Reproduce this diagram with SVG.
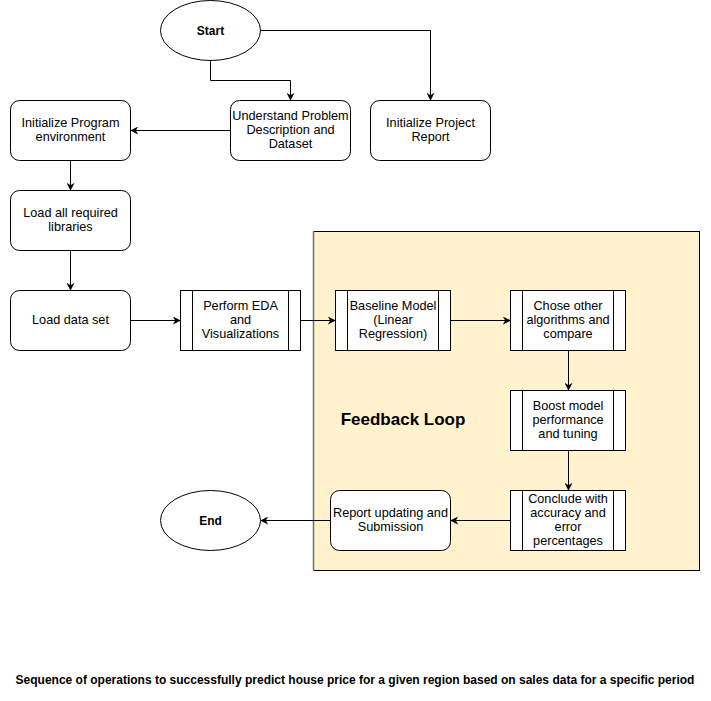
<svg xmlns="http://www.w3.org/2000/svg" width="711" height="701" viewBox="0 0 711 701">
<defs>
<marker id="arr" viewBox="0 0 10 10" refX="9" refY="5" markerWidth="8" markerHeight="8" markerUnits="userSpaceOnUse" orient="auto">
<path d="M0,0 L10,5 L0,10 L3,5 Z" fill="#000"/>
</marker>
<style>
.n{fill:#fff;stroke:#000;stroke-width:1}
.t{font-family:"Liberation Sans",Arial,sans-serif;font-size:12.7px;fill:#000;text-anchor:middle}
.b{font-weight:bold;font-size:12px}
.e{fill:none;stroke:#000;stroke-width:1;marker-end:url(#arr)}
</style>
</defs>
<rect width="711" height="701" fill="#fff"/>
<g id="feedback-loop">
<rect x="313.5" y="231.5" width="386" height="339" fill="#fff2cc" stroke="#000"/>
<line x1="313.5" y1="231" x2="313.5" y2="571" stroke="#707070" stroke-width="1.5"/>
<text x="403" y="425" class="t" style="font-size:17px;font-weight:bold">Feedback Loop</text>
</g>
<g id="connectors">
<path class="e" d="M210.5,60 V80.5 H290.5 V100"/>
<path class="e" d="M260,30.5 H430.5 V100"/>
<path class="e" d="M230,130.5 H131"/>
<path class="e" d="M70.5,160 V190"/>
<path class="e" d="M70.5,250 V290"/>
<path class="e" d="M130,320.5 H180"/>
<path class="e" d="M300,320.5 H335"/>
<path class="e" d="M450,320.5 H510"/>
<path class="e" d="M568.5,350 V390"/>
<path class="e" d="M568.5,450 V490" stroke="#555"/>
<path class="e" d="M510,520.5 H451"/>
<path class="e" d="M330,520.5 H261"/>
</g>
<g id="start">
<ellipse class="n" cx="210.5" cy="30.5" rx="50" ry="30"/>
<text class="t b" x="210.5" y="34.5">Start</text>
</g>
<g id="understand">
<rect class="n" x="230.5" y="100.5" width="120" height="60" rx="9"/>
<text class="t" x="290.5" y="120">Understand Problem</text>
<text class="t" x="290.5" y="134">Description and</text>
<text class="t" x="290.5" y="148">Dataset</text>
</g>
<g id="init-report">
<rect class="n" x="370.5" y="100.5" width="120" height="60" rx="9"/>
<text class="t" x="430.5" y="127">Initialize Project</text>
<text class="t" x="430.5" y="141">Report</text>
</g>
<g id="init-env">
<rect class="n" x="10.5" y="100.5" width="120" height="60" rx="9"/>
<text class="t" x="70.5" y="127">Initialize Program</text>
<text class="t" x="70.5" y="141">environment</text>
</g>
<g id="load-libs">
<rect class="n" x="10.5" y="190.5" width="120" height="60" rx="9"/>
<text class="t" x="70.5" y="217">Load all required</text>
<text class="t" x="70.5" y="231">libraries</text>
</g>
<g id="load-data">
<rect class="n" x="10.5" y="290.5" width="120" height="60" rx="9"/>
<text class="t" x="70.5" y="324">Load data set</text>
</g>
<g id="eda">
<rect class="n" x="180.5" y="290.5" width="120" height="60"/>
<line x1="192.5" y1="290.5" x2="192.5" y2="350.5" stroke="#000"/>
<line x1="288.5" y1="290.5" x2="288.5" y2="350.5" stroke="#000"/>
<text class="t" x="240.5" y="310">Perform EDA</text>
<text class="t" x="240.5" y="324">and</text>
<text class="t" x="240.5" y="338">Visualizations</text>
</g>
<g id="baseline">
<rect class="n" x="335.5" y="290.5" width="115" height="60"/>
<line x1="347.5" y1="290.5" x2="347.5" y2="350.5" stroke="#000"/>
<line x1="438.5" y1="290.5" x2="438.5" y2="350.5" stroke="#000"/>
<text class="t" x="393" y="310">Baseline Model</text>
<text class="t" x="393" y="324">(Linear</text>
<text class="t" x="393" y="338">Regression)</text>
</g>
<g id="chose">
<rect class="n" x="510.5" y="290.5" width="115" height="60"/>
<line x1="522.5" y1="290.5" x2="522.5" y2="350.5" stroke="#000"/>
<line x1="613.5" y1="290.5" x2="613.5" y2="350.5" stroke="#000"/>
<text class="t" x="568" y="310">Chose other</text>
<text class="t" x="568" y="324">algorithms and</text>
<text class="t" x="568" y="338">compare</text>
</g>
<g id="boost">
<rect class="n" x="510.5" y="390.5" width="115" height="60"/>
<line x1="522.5" y1="390.5" x2="522.5" y2="450.5" stroke="#000"/>
<line x1="613.5" y1="390.5" x2="613.5" y2="450.5" stroke="#000"/>
<text class="t" x="568" y="410">Boost model</text>
<text class="t" x="568" y="424">performance</text>
<text class="t" x="568" y="438">and tuning</text>
</g>
<g id="conclude">
<rect class="n" x="510.5" y="490.5" width="115" height="60"/>
<line x1="522.5" y1="490.5" x2="522.5" y2="550.5" stroke="#000"/>
<line x1="613.5" y1="490.5" x2="613.5" y2="550.5" stroke="#000"/>
<text class="t" x="568" y="503">Conclude with</text>
<text class="t" x="568" y="517">accuracy and</text>
<text class="t" x="568" y="531">error</text>
<text class="t" x="568" y="545">percentages</text>
</g>
<g id="report">
<rect class="n" x="330.5" y="490.5" width="120" height="60" rx="9"/>
<text class="t" x="390.5" y="517">Report updating and</text>
<text class="t" x="390.5" y="531">Submission</text>
</g>
<g id="end">
<ellipse class="n" cx="210.5" cy="520.5" rx="50" ry="30"/>
<text class="t b" x="210.5" y="524.5">End</text>
</g>
<text class="t b" x="355" y="684">Sequence of operations to successfully predict house price for a given region based on sales data for a specific period</text>
</svg>
